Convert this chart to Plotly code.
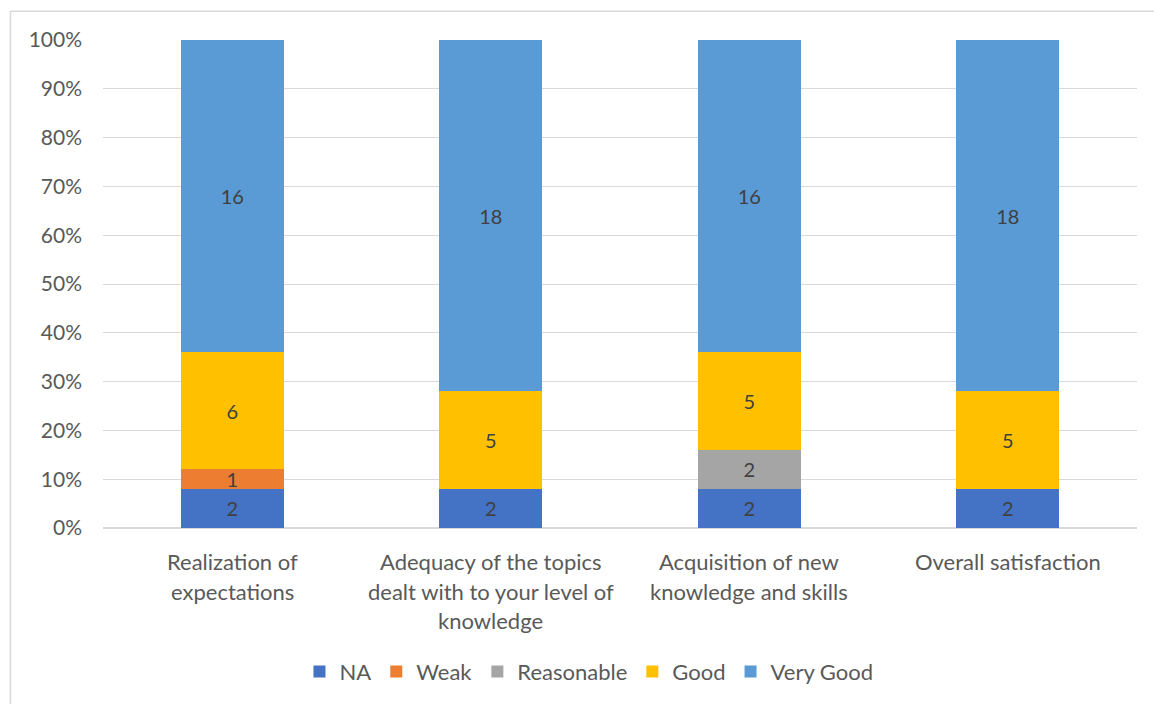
import plotly.graph_objects as go

categories = [
    "Realization of<br>expectations",
    "Adequacy of the topics<br>dealt with to your level of<br>knowledge",
    "Acquisition of new<br>knowledge and skills",
    "Overall satisfaction",
]
na = [2, 2, 2, 2]
weak = [1, 0, 0, 0]
reasonable = [0, 0, 2, 0]
good = [6, 5, 5, 5]
very_good = [16, 18, 16, 18]

series = [
    ("NA", na, "#4472C4"),
    ("Weak", weak, "#ED7D31"),
    ("Reasonable", reasonable, "#A5A5A5"),
    ("Good", good, "#FFC000"),
    ("Very Good", very_good, "#5B9BD5"),
]

font_family = "Lato, 'Open Sans', sans-serif"
text_color = "#595959"

fig = go.Figure()
for name, vals, color in series:
    fig.add_trace(go.Bar(
        name=name,
        x=categories,
        y=vals,
        marker=dict(color=color, line=dict(width=0)),
        text=[str(v) if v else "" for v in vals],
        textposition="inside",
        insidetextanchor="middle",
        textangle=0,
        constraintext="none",
        textfont=dict(family=font_family, size=20, color="#404040"),
        cliponaxis=False,
    ))

# Category labels drawn line by line under each bar for wider line spacing
annotations = []
for cat in categories:
    for i, line in enumerate(cat.split("<br>")):
        annotations.append(dict(
            x=cat, y=0, xref="x", yref="y",
            text=line, showarrow=False,
            xanchor="center", yanchor="top",
            yshift=-18 - i * 29.5,
            font=dict(family=font_family, size=22, color=text_color),
        ))

fig.update_layout(
    barmode="stack",
    barnorm="percent",
    bargap=0.6,
    width=1154,
    height=704,
    margin=dict(l=103, r=17, t=40, b=175),
    paper_bgcolor="white",
    plot_bgcolor="white",
    font=dict(family=font_family, size=20, color=text_color),
    annotations=annotations,
    legend=dict(
        orientation="h",
        x=0.47, xanchor="center",
        y=-0.292, yanchor="middle",
        font=dict(family=font_family, size=22, color=text_color),
        traceorder="normal",
    ),
    shapes=[
        dict(type="line", xref="paper", yref="paper", x0=-0.0895, x1=1.02,
             y0=1.059, y1=1.059, line=dict(color="#D9D9D9", width=1.5)),
        dict(type="line", xref="paper", yref="paper", x0=-0.0895, x1=-0.0895,
             y0=1.059, y1=-0.36, line=dict(color="#D9D9D9", width=1.5)),
    ],
)

fig.update_yaxes(
    range=[0, 100],
    dtick=10,
    ticksuffix="%",
    showgrid=True,
    gridcolor="#D9D9D9",
    gridwidth=1,
    zeroline=True,
    zerolinecolor="#D9D9D9",
    ticks="",
    ticklabelstandoff=20,
    tickfont=dict(family=font_family, size=21, color=text_color),
    showline=False,
)
fig.update_xaxes(
    showline=False,
    ticks="",
    showticklabels=False,
)

fig.write_html("out.html")
